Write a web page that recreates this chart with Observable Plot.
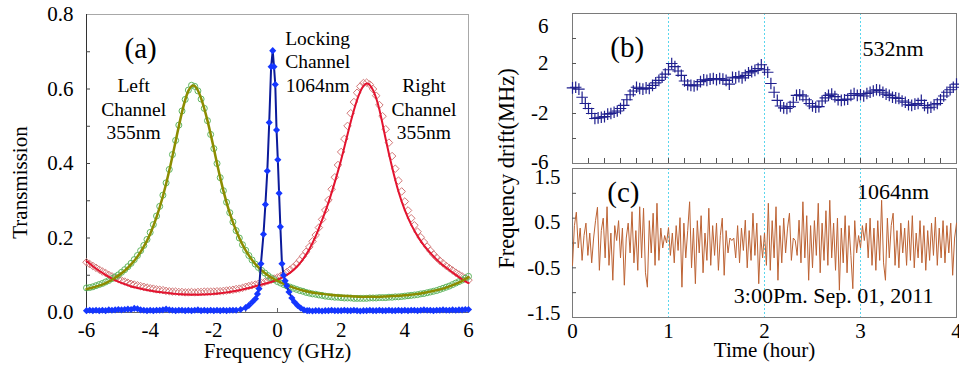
<!DOCTYPE html>
<html><head><meta charset="utf-8">
<script src="https://cdn.jsdelivr.net/npm/d3@7"></script>
<script src="https://cdn.jsdelivr.net/npm/@observablehq/plot@0.6"></script>
<style>
body{margin:0;background:#fff;}
#fig{position:relative;width:959px;height:366px;overflow:hidden;}
#fig > svg{position:absolute;}
</style></head><body><div id="fig"></div>
<script>
// ---------- Panel (a): transmission vs frequency (GHz) ----------
const freqStart = -6, freqStep = 0.1, fitStep = 0.2;
// Left channel 355nm (green circles), sampled every 0.1 GHz from -6
const leftChannel = [
 0.066,0.067,0.069,0.072,0.075,0.078,0.082,0.086,0.091,0.096,
 0.101,0.108,0.115,0.123,0.132,0.142,0.153,0.166,0.180,0.196,
 0.215,0.236,0.259,0.285,0.315,0.348,0.384,0.424,0.462,0.503,
 0.541,0.572,0.597,0.610,0.607,0.595,0.573,0.548,0.515,0.478,
 0.440,0.400,0.362,0.327,0.296,0.268,0.243,0.220,0.200,0.182,
 0.167,0.153,0.141,0.130,0.121,0.113,0.106,0.099,0.093,0.088,
 0.083,0.079,0.075,0.071,0.068,0.065,0.062,0.059,0.057,0.054,
 0.052,0.050,0.049,0.047,0.046,0.044,0.043,0.042,0.041,0.041,
 0.040,0.039,0.039,0.039,0.038,0.038,0.038,0.038,0.038,0.039,
 0.039,0.039,0.040,0.040,0.040,0.041,0.041,0.042,0.042,0.043,
 0.044,0.045,0.046,0.047,0.048,0.050,0.051,0.053,0.055,0.057,
 0.059,0.062,0.065,0.068,0.071,0.075,0.079,0.083,0.087,0.092,
 0.097];
// Right channel 355nm (red diamonds)
const rightChannel = [
 0.135,0.130,0.125,0.120,0.115,0.110,0.106,0.101,0.097,0.093,
 0.090,0.086,0.083,0.080,0.077,0.075,0.073,0.071,0.069,0.067,
 0.065,0.064,0.062,0.061,0.060,0.058,0.057,0.056,0.056,0.055,
 0.055,0.054,0.054,0.055,0.054,0.055,0.055,0.056,0.056,0.056,
 0.056,0.057,0.057,0.058,0.059,0.060,0.061,0.063,0.064,0.066,
 0.069,0.071,0.073,0.075,0.077,0.079,0.082,0.085,0.088,0.091,
 0.094,0.098,0.103,0.109,0.115,0.122,0.130,0.140,0.151,0.163,
 0.176,0.191,0.208,0.228,0.250,0.275,0.302,0.331,0.363,0.396,
 0.431,0.466,0.501,0.535,0.565,0.590,0.607,0.616,0.617,0.612,
 0.600,0.582,0.557,0.527,0.492,0.456,0.420,0.386,0.354,0.325,
 0.298,0.274,0.253,0.234,0.217,0.202,0.189,0.177,0.166,0.156,
 0.147,0.139,0.132,0.125,0.119,0.113,0.107,0.102,0.097,0.092,
 0.087];
// Fitted curves, every 0.2 GHz from -6
const leftFit = [
 0.063,0.067,0.072,0.079,0.088,0.099,0.112,0.129,0.150,0.177,
 0.211,0.256,0.312,0.381,0.460,0.538,0.595,0.608,0.575,0.515,
 0.440,0.362,0.295,0.242,0.200,0.167,0.141,0.121,0.106,0.094,
 0.085,0.077,0.070,0.064,0.059,0.055,0.052,0.050,0.048,0.046,
 0.045,0.044,0.043,0.042,0.042,0.042,0.042,0.043,0.044,0.045,
 0.046,0.048,0.050,0.053,0.056,0.060,0.064,0.070,0.077,0.085,
 0.095];
const rightFit = [
 0.138,0.124,0.112,0.101,0.091,0.083,0.076,0.070,0.066,0.062,
 0.059,0.056,0.054,0.052,0.050,0.049,0.048,0.048,0.048,0.049,
 0.050,0.052,0.054,0.057,0.060,0.064,0.068,0.073,0.077,0.082,
 0.088,0.096,0.107,0.122,0.143,0.170,0.205,0.248,0.295,0.350,
 0.410,0.478,0.543,0.593,0.615,0.597,0.545,0.465,0.390,0.325,
 0.275,0.236,0.205,0.180,0.160,0.142,0.127,0.114,0.101,0.089,
 0.079];
// Locking channel 1064nm (blue)
const lockBaseLeft = [ // -6.0 .. -1.4 every 0.1
 0.005,0.006,0.005,0.006,0.005,0.006,0.005,0.007,0.006,0.007,
 0.008,0.007,0.008,0.009,0.008,0.011,0.010,0.007,0.006,0.005,
 0.006,0.005,0.006,0.006,0.007,0.009,0.007,0.006,0.005,0.006,
 0.006,0.005,0.006,0.005,0.006,0.007,0.005,0.006,0.005,0.006,
 0.005,0.006,0.005,0.006,0.005,0.006,0.006];
const lockPeakFreq = [-1.3,-1.16,-1.0,-0.9,-0.79,-0.69,-0.63,-0.58,-0.52,-0.44,-0.38,-0.32,-0.26,-0.2,-0.15,-0.11,-0.07,-0.03,0.01,0.05,0.09,0.14,0.19,0.24,0.29,0.36,0.45,0.53,0.63,0.73,0.83,0.93];
const lockPeakTrans = [0.006,0.008,0.013,0.019,0.028,0.037,0.05,0.064,0.131,0.21,0.29,0.38,0.51,0.66,0.703,0.66,0.612,0.49,0.41,0.32,0.23,0.131,0.10,0.085,0.072,0.055,0.039,0.028,0.019,0.012,0.007,0.005];
const lockBaseRight = [ // 1.0 .. 6.0 every 0.1
 0.005,0.004,0.005,0.005,0.004,0.005,0.005,0.006,0.005,0.005,
 0.005,0.006,0.005,0.005,0.006,0.005,0.004,0.005,0.005,0.006,
 0.005,0.005,0.006,0.005,0.005,0.006,0.005,0.005,0.006,0.005,
 0.006,0.005,0.006,0.006,0.005,0.006,0.007,0.006,0.006,0.005,
 0.006,0.006,0.007,0.006,0.006,0.007,0.006,0.007,0.007,0.008,
 0.008];
const xTicksA = [-6,-4,-2,0,2,4,6];
const xMinorA = [-5,-4,-3,-2,-1,0,1,2,3,4,5];
const yTicksA = [0,0.2,0.4,0.6,0.8];
const yMinorA = [0.1,0.2,0.3,0.4,0.5,0.6,0.7];

// ---------- Panel (b): 532nm drift, one point every 2 minutes ----------
const driftStep532 = 1/30;
const drift532 = [
 0.05,0.10,-0.05,-0.70,-1.20,-1.60,-2.00,-2.40,-2.35,-2.30,
 -2.25,-2.05,-2.00,-1.90,-1.80,-1.60,-1.35,-0.90,-0.50,-0.20,
 0.10,0.00,-0.05,0.05,0.00,0.25,0.45,0.65,0.90,1.15,
 1.50,2.00,1.75,1.40,1.05,0.60,0.30,0.25,0.20,0.30,
 0.55,0.70,0.65,0.75,0.80,0.70,0.80,0.75,0.65,0.35,
 0.90,0.85,0.95,0.85,1.05,1.25,1.35,1.45,1.60,1.90,
 1.50,1.30,0.40,-0.30,-0.95,-1.40,-1.55,-1.60,-1.45,-1.10,
 -0.55,-0.50,-0.60,-0.90,-1.20,-1.40,-1.50,-1.45,-1.00,-0.75,
 -0.55,-0.45,-0.65,-0.90,-0.95,-0.90,-0.85,-0.55,-0.40,-0.55,
 -0.50,-0.60,-0.40,-0.30,-0.20,-0.10,-0.15,-0.30,-0.45,-0.55,
 -0.70,-0.75,-0.80,-1.00,-1.10,-1.30,-1.35,-1.25,-1.20,-0.95,
 -1.35,-1.55,-1.50,-1.30,-1.20,-0.90,-0.60,-0.30,-0.10,0.10,
 0.35];
const yTicksB = [2,-2];
const yEndTicksB = [6,-6];
const yMinorB = [4,2,0,-2,-4];

// ---------- Panel (c): 1064nm drift, one point every 1.2 minutes ----------
const driftStep1064 = 0.02;
const drift1064 = [
 -0.45,0.35,0.62,-0.10,0.30,-0.35,0.15,0.40,-0.25,0.20,
 -0.40,0.10,0.45,0.72,-0.55,0.25,0.50,-0.30,0.73,-0.45,
 0.20,-0.75,0.35,0.05,0.45,-0.30,0.30,-0.85,0.10,0.40,
 -0.20,0.63,-0.40,0.25,-0.55,0.73,-0.30,0.70,-0.60,-0.89,
 0.45,-0.20,0.60,-0.45,0.80,-0.35,0.30,-0.10,0.15,0.00,
 0.31,-0.25,0.20,-0.40,0.35,-0.15,0.51,-0.89,0.40,-0.30,
 0.25,0.83,-0.50,0.30,-0.82,0.45,-0.20,0.55,-0.60,0.20,
 -0.35,0.70,-0.45,0.35,-0.25,0.40,-0.55,0.15,0.50,-0.65,
 0.25,-0.20,0.10,0.05,0.10,-0.30,0.35,-0.40,0.30,-0.15,
 0.46,-0.50,0.25,-0.35,0.60,-0.25,0.40,-0.82,0.15,-0.30,
 0.20,-0.45,0.80,-0.55,0.45,-0.30,0.73,-0.75,0.35,-0.40,
 0.50,-0.20,0.30,0.60,-0.35,0.10,0.05,-0.25,0.46,-0.40,
 0.83,-0.30,0.55,-0.75,0.35,-0.50,0.45,-0.25,0.80,-0.60,
 0.40,-0.35,0.65,-0.45,0.86,-0.30,0.40,-0.55,0.50,-0.95,
 0.30,-0.40,0.55,-0.60,0.35,-0.25,-0.92,0.45,-0.20,0.15,
 -0.10,0.35,0.05,0.40,-0.30,0.50,-0.45,0.30,-0.55,0.45,
 -0.35,0.86,-0.40,-0.75,0.50,-0.30,0.35,0.60,-0.45,0.25,
 -0.50,0.40,-0.20,0.30,-0.45,0.45,-0.35,0.55,-0.50,0.20,
 -0.30,0.45,-0.40,0.35,-0.55,0.25,-0.35,0.40,-0.25,0.52,
 -0.45,0.30,-0.30,0.45,-0.40,0.35,-0.20,0.40,-0.65,0.10,
 0.40];
const yTopTickC = [1.5];
const yUpperTickC = [0.5];
const yLowerTickC = [-0.5];
const yBottomTickC = [-1.5];
const yMinorC = [1,0.5,0,-0.5,-1];
const hourTicks = [0,1,2,3,4];
const hourGrid = [1,2,3];
const tenMinuteTicks = d3.range(1, 24).map(i => i / 6);

// ---------- helpers ----------
const onGrid = (values, start, step) => values.map((v, i) => ({x: start + i * step, y: v}));
const leftPts = onGrid(leftChannel, freqStart, freqStep);
const rightPts = onGrid(rightChannel, freqStart, freqStep);
const leftFitPts = onGrid(leftFit, freqStart, fitStep);
const rightFitPts = onGrid(rightFit, freqStart, fitStep);
const lockPts = [
  ...onGrid(lockBaseLeft, -6, 0.1),
  ...lockPeakFreq.map((f, i) => ({x: f, y: lockPeakTrans[i]})),
  ...onGrid(lockBaseRight, 1, 0.1)
];
const pts532 = onGrid(drift532, 0, driftStep532);
const pts1064 = onGrid(drift1064, 0, driftStep1064);

const serif = "'Liberation Serif','Times New Roman',serif";
const baseStyle = {fontFamily: serif, fontSize: "21px", background: "transparent", overflow: "visible", color: "#000"};
const fig = document.getElementById("fig");
const str = d => String(d);

// ---------- Plot (a) ----------
const plotA = Plot.plot({
  width: 480, height: 366,
  marginLeft: 86, marginRight: 12, marginTop: 14, marginBottom: 54,
  style: baseStyle,
  x: {domain: [-6, 6], label: null},
  y: {domain: [0, 0.8], label: null},
  marks: [
    Plot.frame({stroke: "#a8a8a8"}),
    Plot.ruleX([-6], {stroke: "#333"}),
    Plot.ruleY([0], {stroke: "#666"}),
    Plot.axisY(yMinorA, {tickSize: 4, dx: 4, fill: "none", label: null, stroke: "#444"}),
    Plot.axisY(yTicksA, {tickSize: 0, tickPadding: 13, tickFormat: d3.format(".1f"), label: null}),
    Plot.axisX(xMinorA, {tickSize: 4, dy: -4, fill: "none", label: null, stroke: "#666"}),
    Plot.axisX(xTicksA, {tickSize: 0, tickPadding: 10, tickFormat: str, label: null}),
    Plot.text(["Transmission"], {frameAnchor: "left", textAnchor: "middle", rotate: -90, dx: -66, dy: 19, fontSize: 21}),
    Plot.text(["Frequency (GHz)"], {frameAnchor: "bottom", textAnchor: "middle", dy: 45, fontSize: 21}),
    Plot.dot(rightPts, {x: "x", y: "y", symbol: "diamond2", r: 3.4, stroke: "#d27878", strokeWidth: 1, fill: "none"}),
    Plot.dot(leftPts, {x: "x", y: "y", symbol: "circle", r: 3, stroke: "#5fb55f", strokeWidth: 1, fill: "none"}),
    Plot.line(rightFitPts, {x: "x", y: "y", curve: "natural", stroke: "#e3132f", strokeWidth: 2}),
    Plot.line(leftFitPts, {x: "x", y: "y", curve: "natural", stroke: "#8c8c00", strokeWidth: 2.5}),
    Plot.line(lockPts, {x: "x", y: "y", stroke: "#0b1a9a", strokeWidth: 2}),
    Plot.dot(lockPts, {x: "x", y: "y", symbol: "diamond2", r: 3.2, fill: "#1436ff", stroke: "none"}),
    Plot.text([{x: -4.3, y: 0.709, t: "(a)"}], {x: "x", y: "y", text: "t", fontSize: 29}),
    Plot.text([{x: 1.26, y: 0.676, t: "Locking\nChannel\n1064nm"}], {x: "x", y: "y", text: "t", fontSize: 19.5, lineHeight: 1.2}),
    Plot.text([{x: -4.52, y: 0.548, t: "Left\nChannel\n355nm"}], {x: "x", y: "y", text: "t", fontSize: 19.5, lineHeight: 1.2}),
    Plot.text([{x: 4.6, y: 0.548, t: "Right\nChannel\n355nm"}], {x: "x", y: "y", text: "t", fontSize: 19.5, lineHeight: 1.2})
  ]
});
plotA.style.left = "0px"; plotA.style.top = "0px";
fig.appendChild(plotA);

// ---------- Plot (b) ----------
const plotB = Plot.plot({
  width: 479, height: 170,
  marginLeft: 92, marginRight: 3, marginTop: 13, marginBottom: 7,
  style: baseStyle,
  x: {domain: [0, 4], label: null},
  y: {domain: [-6, 6], label: null},
  marks: [
    Plot.ruleX(hourGrid, {stroke: "#5ad6ee", strokeDasharray: "2,2"}),
    Plot.frame({stroke: "#7a7a7a"}),
    Plot.axisY(yMinorB, {tickSize: 4, dx: 4, fill: "none", label: null, stroke: "#555"}),
    Plot.axisY(yTicksB, {tickSize: 0, tickPadding: 24, tickFormat: str, label: null}),
    Plot.axisY(yEndTicksB, {tickSize: 0, tickPadding: 24, tickFormat: str, label: null}),
    Plot.axisX(tenMinuteTicks, {tickSize: 5, dy: -5, fill: "none", label: null, stroke: "#555"}),
    Plot.dot(pts532, {x: "x", y: "y", symbol: "plus", r: 3.8, stroke: "#1f1f8e", strokeWidth: 1.2}),
    Plot.text([{x: 0.57, y: 3.28, t: "(b)"}], {x: "x", y: "y", text: "t", fontSize: 29}),
    Plot.text([{x: 3.34, y: 3.2, t: "532nm"}], {x: "x", y: "y", text: "t", fontSize: 22})
  ]
});
plotB.style.left = "480px"; plotB.style.top = "0px";
fig.appendChild(plotB);

// ---------- Plot (c) ----------
const plotC = Plot.plot({
  width: 479, height: 206,
  marginLeft: 92, marginRight: 3, marginTop: 8, marginBottom: 49,
  style: baseStyle,
  x: {domain: [0, 4], label: null},
  y: {domain: [-1.5, 1.5], label: null},
  marks: [
    Plot.ruleX(hourGrid, {stroke: "#5ad6ee", strokeDasharray: "2,2"}),
    Plot.frame({stroke: "#7a7a7a"}),
    Plot.axisY(yMinorC, {tickSize: 4, dx: 4, fill: "none", label: null, stroke: "#555"}),
    Plot.axisY(yTopTickC, {tickSize: 0, tickPadding: 12, tickFormat: str, label: null, dy: 9}),
    Plot.axisY(yUpperTickC, {tickSize: 0, tickPadding: 12, tickFormat: str, label: null, dy: 4}),
    Plot.axisY(yLowerTickC, {tickSize: 0, tickPadding: 12, tickFormat: str, label: null}),
    Plot.axisY(yBottomTickC, {tickSize: 0, tickPadding: 12, tickFormat: str, label: null, dy: -4}),
    Plot.axisX(hourTicks, {tickSize: 0, tickPadding: 6, tickFormat: str, label: null}),
    Plot.line(pts1064, {x: "x", y: "y", stroke: "#bd6334", strokeWidth: 1}),
    Plot.text([{x: 0.53, y: 1.02, t: "(c)"}], {x: "x", y: "y", text: "t", fontSize: 29}),
    Plot.text([{x: 3.34, y: 1.02, t: "1064nm"}], {x: "x", y: "y", text: "t", fontSize: 22}),
    Plot.text([{x: 2.72, y: -1.06, t: "3:00Pm. Sep. 01, 2011"}], {x: "x", y: "y", text: "t", fontSize: 22}),
    Plot.text(["Time (hour)"], {frameAnchor: "bottom", textAnchor: "middle", dy: 39, fontSize: 21}),
    Plot.text(["Frequency drift(MHz)"], {frameAnchor: "top-left", textAnchor: "middle", rotate: -90, dx: -74, fontSize: 22.5})
  ]
});
plotC.style.left = "480px"; plotC.style.top = "160px";
fig.appendChild(plotC);

// nudge the end labels of panel (b) inward as in the original
plotB.querySelectorAll("g[aria-label='y-axis tick label'] text").forEach(t => {
  if (t.textContent === "6") t.setAttribute("dy", "0.6em");
  if (t.textContent === "-6") t.setAttribute("dy", "-0.05em");
});
</script>
</body></html>
